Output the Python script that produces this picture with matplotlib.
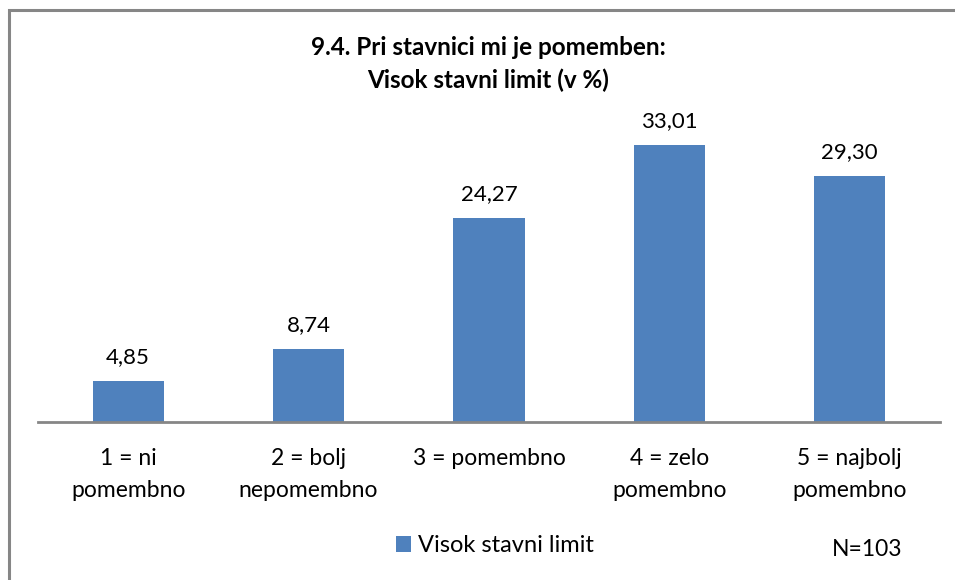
import matplotlib
matplotlib.use("Agg")
import matplotlib.pyplot as plt
from matplotlib.patches import Rectangle

# Podatki
kategorije = ["1 = ni\npomembno", "2 = bolj\nnepomembno", "3 = pomembno",
              "4 = zelo\npomembno", "5 = najbolj\npomembno"]
vrednosti = [4.85, 8.74, 24.27, 33.01, 29.30]
serija = "Visok stavni limit"
naslov = "9.4. Pri stavnici mi je pomemben:\nVisok stavni limit (v %)"

barva = "#4F81BD"
plt.rcParams["font.family"] = ["Lato", "DejaVu Sans"]

fig = plt.figure(figsize=(9.55, 5.8), dpi=100)
fig.patches.append(Rectangle((8.5 / 955, -0.1), 1.2, 1.1 - 10.5 / 580, transform=fig.transFigure,
                             fill=False, edgecolor="#868686", linewidth=2.2))

ax = fig.add_axes([38 / 955, 158 / 580, 902 / 955, 294 / 580])
x = list(range(len(vrednosti)))
ax.bar(x, vrednosti, width=0.395, color=barva, label=serija, zorder=2)
for xi, v in zip(x, vrednosti):
    ax.annotate(f"{v:.2f}".replace(".", ","), (xi, v), xytext=(0, 10), textcoords="offset points",
                ha="center", va="bottom", fontsize=16)

ax.set_xlim(-0.5, 4.5)
ax.set_ylim(0, 35)
ax.set_xticks(x)
ax.set_xticklabels(kategorije, fontsize=16.5, linespacing=1.65)
ax.tick_params(axis="x", length=0, pad=19)
ax.set_yticks([])
for s in ["top", "right", "left"]:
    ax.spines[s].set_visible(False)
ax.spines["bottom"].set_color("#868686")
ax.spines["bottom"].set_linewidth(2)

fig.text(488 / 955, 1 - 64 / 580, naslov, ha="center", va="center", fontsize=17.5,
         fontweight="bold", linespacing=1.45)

fig.legend(loc="center", bbox_to_anchor=(495 / 955, 1 - 546 / 580), frameon=False,
           fontsize=17, handlelength=0.65, handleheight=0.65, handletextpad=0.3)
fig.text(867 / 955, 1 - 550 / 580, "N=103", ha="center", va="center", fontsize=16.5)

fig.savefig("out.png", dpi=100)
